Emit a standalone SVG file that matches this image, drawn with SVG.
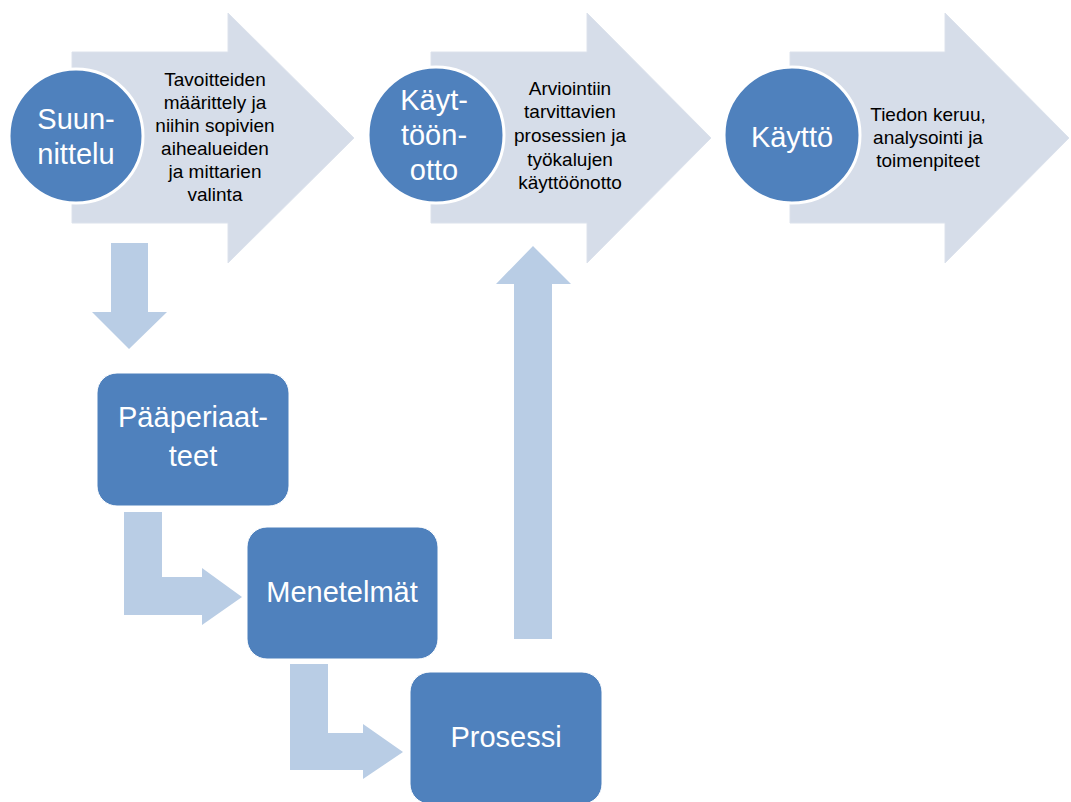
<svg xmlns="http://www.w3.org/2000/svg" width="1071" height="802" viewBox="0 0 1071 802">
<style>
.big{fill:#D6DDE9;stroke:#DCE2EC;stroke-width:1}
.con{fill:#B9CDE5}
.circ{fill:#4F81BD;stroke:#FFFFFF;stroke-width:3}
.box{fill:#4F81BD;stroke:#FFFFFF;stroke-width:1}
.wt{font-family:"Liberation Sans",Arial,sans-serif;font-size:29px;fill:#FFFFFF;text-anchor:middle}
.bt{font-family:"Liberation Sans",Arial,sans-serif;font-size:19px;fill:#000000;text-anchor:middle}
</style>
<rect width="1071" height="802" fill="#FFFFFF"/>
<g id="connectors">
<path class="con" d="M111,243 H148 V312 H167 L129,349 L92,312 H111 Z"/>
<path class="con" d="M124,512 H162 V577 H202 V568 L242,597 L202,625 V615 H124 Z"/>
<path class="con" d="M290,664 H328 V733 H363 V724 L403,752 L363,779 V770 H290 Z"/>
<path class="con" d="M514,639 V284 H496 L533,246 L571,284 H552 V639 Z"/>
</g>
<g id="phase1">
<path class="big" d="M72,52 H228 V13 L354,138 L228,263 V223 H72 Z"/>
<circle class="circ" cx="76" cy="136" r="67"/>
<text class="wt" x="76" y="129">Suun-</text>
<text class="wt" x="76" y="164">nittelu</text>
<text class="bt"><tspan x="215" y="86">Tavoitteiden</tspan><tspan x="215" y="109">määrittely ja</tspan><tspan x="215" y="132">niihin sopivien</tspan><tspan x="215" y="155">aihealueiden</tspan><tspan x="215" y="178">ja mittarien</tspan><tspan x="215" y="201">valinta</tspan></text>
</g>
<g id="phase2">
<path class="big" d="M431,52 H587 V13 L711,138 L587,263 V223 H431 Z"/>
<circle class="circ" cx="436" cy="135" r="68"/>
<text class="wt" x="434" y="110">Käyt-</text>
<text class="wt" x="434" y="145">töön-</text>
<text class="wt" x="434" y="180">otto</text>
<text class="bt"><tspan x="570" y="95">Arviointiin</tspan><tspan x="570" y="118">tarvittavien</tspan><tspan x="570" y="142">prosessien ja</tspan><tspan x="570" y="166">työkalujen</tspan><tspan x="570" y="189">käyttöönotto</tspan></text>
</g>
<g id="phase3">
<path class="big" d="M790,52 H945 V13 L1069,138 L945,263 V223 H790 Z"/>
<circle class="circ" cx="792" cy="135" r="68"/>
<text class="wt" x="792" y="147">Käyttö</text>
<text class="bt"><tspan x="928" y="121">Tiedon keruu,</tspan><tspan x="928" y="144">analysointi ja</tspan><tspan x="928" y="167">toimenpiteet</tspan></text>
</g>
<g id="paaperiaatteet">
<rect class="box" x="97" y="373" width="192" height="133" rx="20"/>
<text class="wt" x="193" y="427">Pääperiaat-</text>
<text class="wt" x="193" y="466">teet</text>
</g>
<g id="menetelmat">
<rect class="box" x="247" y="527" width="191" height="132" rx="20"/>
<text class="wt" x="342" y="602">Menetelmät</text>
</g>
<g id="prosessi">
<rect class="box" x="410" y="672" width="192" height="132" rx="20"/>
<text class="wt" x="506" y="747">Prosessi</text>
</g>
</svg>
